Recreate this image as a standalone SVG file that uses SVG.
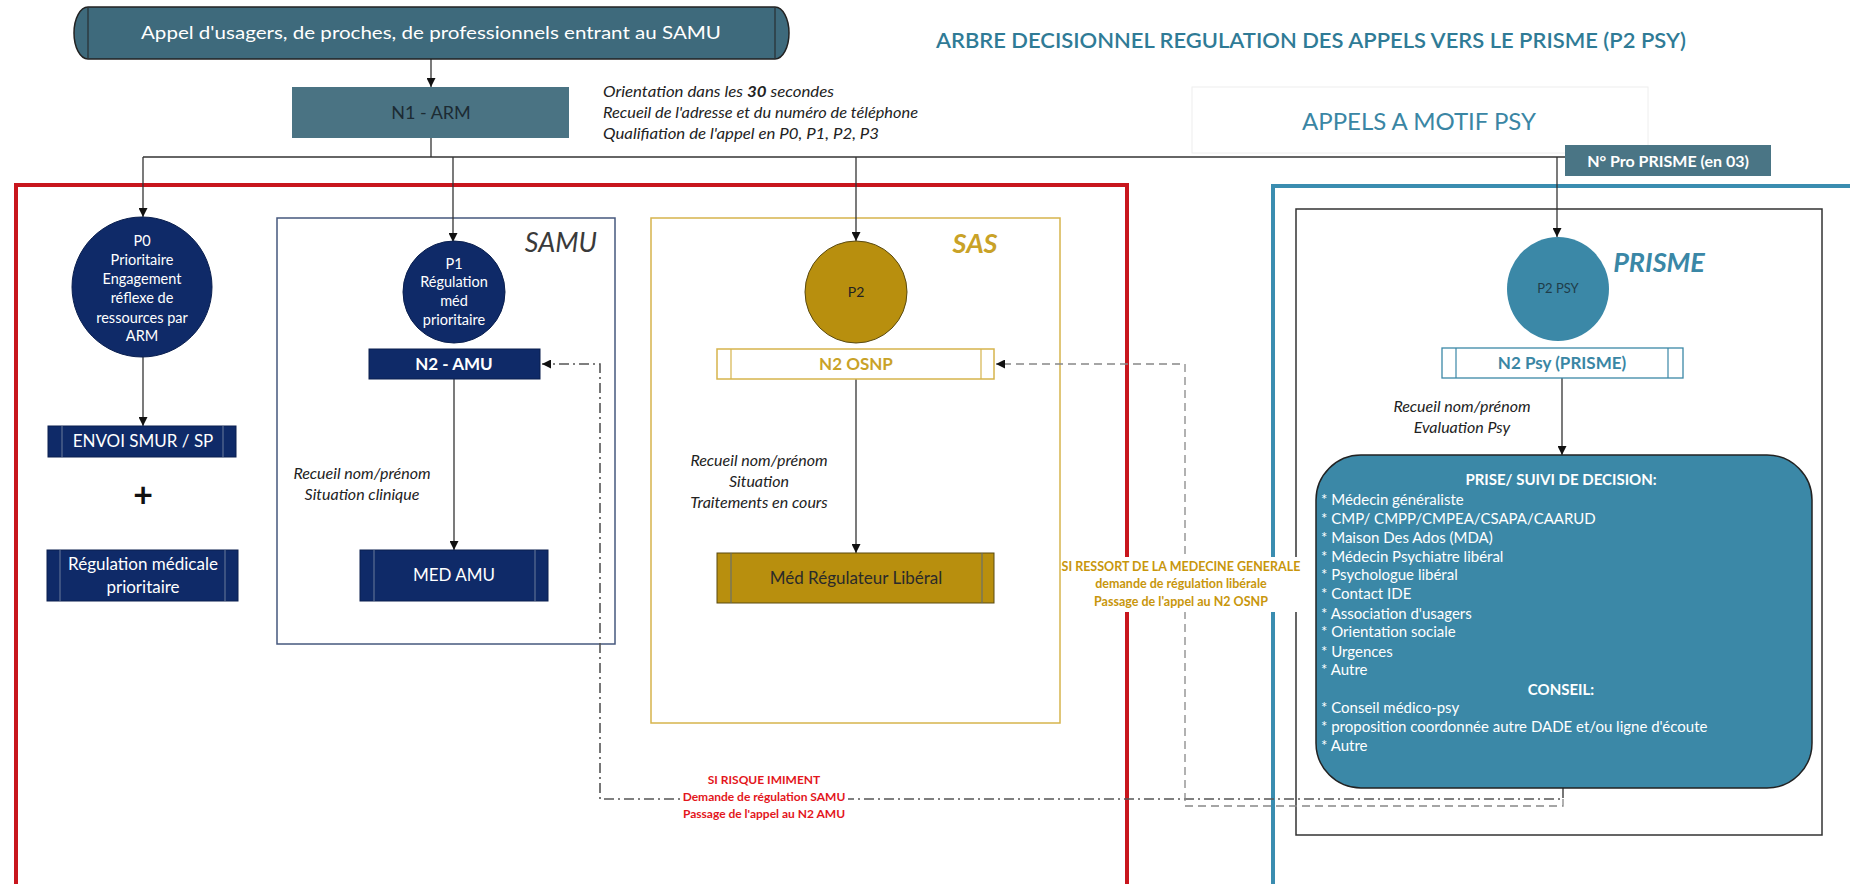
<svg xmlns="http://www.w3.org/2000/svg" width="1850" height="884" viewBox="0 0 1850 884">
<defs>
<style>
text{font-family:Lato,"Liberation Sans",sans-serif;fill:#222}
.c{text-anchor:middle}
.w{fill:#fff}
.it{font-style:italic}
.b{font-weight:bold}
.navy{fill:#0f2a68;stroke:#0a1f4f;stroke-width:1}
.gold{fill:#b88f0e;stroke:#5a4a10;stroke-width:1}
.inner{stroke:#6a7a9a;stroke-width:1;fill:none}
.conn{fill:none;stroke:#333;stroke-width:1.3}
.node-t{font-size:17px}
.note{font-size:16px;font-style:italic;fill:#222}
.lst{font-size:15px;fill:#fff}
</style>
<marker id="ah" markerWidth="9" markerHeight="9" refX="9" refY="4.5" orient="auto" markerUnits="userSpaceOnUse"><path d="M0,0 L9,4.5 L0,9 z" fill="#111"/></marker>
</defs>
<rect width="1850" height="884" fill="#fff"/>

<g id="title">
<text x="936" y="48" font-size="21" font-weight="600" style="fill:#2f7b96" textLength="750" lengthAdjust="spacingAndGlyphs">ARBRE DECISIONNEL REGULATION DES APPELS VERS LE PRISME (P2 PSY)</text>
</g>

<g id="containers">
<rect id="zone-red" x="16" y="185" width="1111" height="760" fill="none" stroke="#c8161d" stroke-width="4"/>
<rect id="zone-blue" x="1273" y="186" width="640" height="760" fill="none" stroke="#3a8db0" stroke-width="4"/>
<rect id="zone-prisme" x="1296" y="209" width="526" height="626" fill="none" stroke="#333" stroke-width="1.5"/>
<g id="zone-samu"><rect x="277" y="218" width="338" height="426" fill="none" stroke="#46587e" stroke-width="1.5"/>
<text x="561" y="252" font-size="27" class="it c" style="fill:#3a3a3a">SAMU</text></g>
<g id="zone-sas"><rect x="651" y="218" width="409" height="505" fill="none" stroke="#d6b44c" stroke-width="1.5"/>
<text x="975" y="253" font-size="27" class="it b c" style="fill:#c9a227">SAS</text></g>
<text x="1659" y="272" font-size="27" class="it b c" style="fill:#3a87a6">PRISME</text>
<g id="appels-psy"><rect x="1192" y="87" width="456" height="66" fill="#fff" stroke="#eeeeee" stroke-width="1"/>
<text x="1419" y="130" font-size="24" class="c" style="fill:#3a86a4">APPELS A MOTIF PSY</text></g>
</g>

<g id="connectors">
<path class="conn" d="M431 59 V87" marker-end="url(#ah)"/>
<path class="conn" d="M431 138 V157"/>
<path class="conn" d="M143 157 H1565"/>
<path class="conn" d="M143 157 V217" marker-end="url(#ah)"/>
<path class="conn" d="M453 157 V242" marker-end="url(#ah)"/>
<path class="conn" d="M856 157 V241" marker-end="url(#ah)"/>
<path class="conn" d="M1557 157 V237" marker-end="url(#ah)"/>
<path class="conn" d="M143 357 V426" marker-end="url(#ah)"/>
<path class="conn" d="M454 379 V550" marker-end="url(#ah)"/>
<path class="conn" d="M856 379 V553" marker-end="url(#ah)"/>
<path class="conn" d="M1562 378 V455" marker-end="url(#ah)"/>
<path d="M1563 788 V799 H600 V364 H542" fill="none" stroke="#555" stroke-width="1.6" stroke-dasharray="10 4 2 4" marker-end="url(#ah)"/>
<path d="M1563 799 V806 H1185 V364 H996" fill="none" stroke="#888" stroke-width="1.3" stroke-dasharray="8 5" marker-end="url(#ah)"/>
</g>

<g id="banner">
<rect x="74" y="7" width="715" height="52" rx="14" ry="26" fill="#3e6a7c" stroke="#222" stroke-width="1.5"/>
<path d="M88 8 V58 M775 8 V58" stroke="#222" stroke-width="1"/>
<text x="431" y="39" font-size="18" class="c w" textLength="580" lengthAdjust="spacingAndGlyphs">Appel d'usagers, de proches, de professionnels entrant au SAMU</text>
</g>

<g id="n1-arm">
<rect x="292" y="87" width="277" height="51" fill="#4a7383"/>
<text x="431" y="119" font-size="18" class="c" style="fill:#1c2b33">N1 - ARM</text>
</g>
<g id="n1-notes">
<text x="603" y="97" class="note" textLength="231" lengthAdjust="spacingAndGlyphs">Orientation dans les <tspan font-weight="bold">30</tspan> secondes</text>
<text x="603" y="118" class="note" textLength="315" lengthAdjust="spacingAndGlyphs">Recueil de l'adresse  et du numéro de téléphone</text>
<text x="603" y="139" class="note" textLength="276" lengthAdjust="spacingAndGlyphs">Qualifiation de l'appel en P0, P1, P2, P3</text>
</g>

<g id="npro">
<rect x="1565" y="145" width="206" height="31" fill="#4a7585"/>
<text x="1668" y="167" font-size="16" class="c b w">N° Pro PRISME (en 03)</text>
</g>

<g id="p0">
<ellipse cx="142" cy="287" rx="70" ry="70" class="navy"/>
<text class="c w" font-size="14.5"><tspan x="142" y="246">P0</tspan><tspan x="142" y="265">Prioritaire</tspan><tspan x="142" y="284">Engagement</tspan><tspan x="142" y="303">réflexe de</tspan><tspan x="142" y="323">ressources par</tspan><tspan x="142" y="341">ARM</tspan></text>
</g>
<g id="envoi">
<rect x="48" y="426" width="188" height="31" class="navy"/>
<path d="M62 426 V457 M223 426 V457" class="inner"/>
<text x="143" y="447" class="c w node-t">ENVOI SMUR / SP</text>
</g>
<text id="plus" x="143" y="507" font-size="34" class="c b" style="fill:#111">+</text>
<g id="regulation">
<rect x="47" y="550" width="191" height="51" class="navy"/>
<path d="M60 550 V601 M225 550 V601" class="inner"/>
<text class="c w node-t"><tspan x="143" y="570">Régulation médicale</tspan><tspan x="143" y="593">prioritaire</tspan></text>
</g>

<g id="p1">
<circle cx="454" cy="292" r="51" class="navy"/>
<text class="c w" font-size="14.5"><tspan x="454" y="269">P1</tspan><tspan x="454" y="287">Régulation</tspan><tspan x="454" y="306">méd</tspan><tspan x="454" y="325">prioritaire</tspan></text>
</g>
<g id="n2-amu">
<rect x="369" y="349" width="171" height="30" class="navy"/>
<text x="454" y="370" class="c b w node-t">N2 - AMU</text>
</g>
<g id="samu-notes">
<text class="c note"><tspan x="362" y="479">Recueil nom/prénom</tspan><tspan x="362" y="500">Situation clinique</tspan></text>
</g>
<g id="med-amu">
<rect x="360" y="550" width="188" height="51" class="navy"/>
<path d="M374 550 V601 M535 550 V601" class="inner"/>
<text x="454" y="581" class="c w node-t">MED AMU</text>
</g>

<g id="p2">
<circle cx="856" cy="292" r="51" class="gold" stroke="#222"/>
<text x="856" y="297" font-size="14" class="c">P2</text>
</g>
<g id="n2-osnp">
<rect x="717" y="349" width="277" height="30" fill="#fff" stroke="#d6b44c" stroke-width="1.5"/>
<path d="M731 349 V379 M981 349 V379" stroke="#d6b44c" stroke-width="1.2"/>
<text x="856" y="370" class="c b node-t" style="fill:#c9a227">N2 OSNP</text>
</g>
<g id="sas-notes">
<text class="c note"><tspan x="759" y="466">Recueil nom/prénom</tspan><tspan x="759" y="487">Situation</tspan><tspan x="759" y="508">Traitements en cours</tspan></text>
</g>
<g id="med-liberal">
<rect x="717" y="553" width="277" height="50" class="gold"/>
<path d="M731 553 V603 M982 553 V603" stroke="#5a6a7a" stroke-width="1"/>
<text x="856" y="584" class="c node-t" style="fill:#2a2a2a">Méd Régulateur Libéral</text>
</g>

<g id="p2-psy">
<ellipse cx="1558" cy="289" rx="51" ry="52" fill="#3b88a7"/>
<text x="1558" y="293" font-size="13" class="c" style="fill:#1f3d4a">P2 PSY</text>
</g>
<g id="n2-psy">
<rect x="1442" y="348" width="241" height="30" fill="#fff" stroke="#3b88a7" stroke-width="1.3"/>
<path d="M1456 348 V378 M1668 348 V378" stroke="#3b88a7" stroke-width="1.2"/>
<text x="1562" y="369" class="c b node-t" style="fill:#3a86a4">N2 Psy (PRISME)</text>
</g>
<g id="prisme-notes">
<text class="c note"><tspan x="1462" y="412">Recueil nom/prénom</tspan><tspan x="1462" y="433">Evaluation Psy</tspan></text>
</g>
<g id="decision">
<rect x="1316" y="455" width="496" height="333" rx="45" ry="45" fill="#3b88a7" stroke="#222" stroke-width="1.5"/>
<text x="1561" y="485" font-size="15" class="c b w">PRISE/ SUIVI DE DECISION:</text>
<text class="lst">
<tspan x="1321" y="505">* Médecin généraliste</tspan>
<tspan x="1321" y="524">* CMP/ CMPP/CMPEA/CSAPA/CAARUD</tspan>
<tspan x="1321" y="543">* Maison Des Ados (MDA)</tspan>
<tspan x="1321" y="562">* Médecin Psychiatre libéral</tspan>
<tspan x="1321" y="580">* Psychologue libéral</tspan>
<tspan x="1321" y="599">* Contact IDE</tspan>
<tspan x="1321" y="619">* Association d'usagers</tspan>
<tspan x="1321" y="637">* Orientation sociale</tspan>
<tspan x="1321" y="657">* Urgences</tspan>
<tspan x="1321" y="675">* Autre</tspan>
</text>
<text x="1561" y="695" font-size="15" class="c b w">CONSEIL:</text>
<text class="lst">
<tspan x="1321" y="713">* Conseil médico-psy</tspan>
<tspan x="1321" y="732">* proposition coordonnée autre DADE et/ou ligne d'écoute</tspan>
<tspan x="1321" y="751">* Autre</tspan>
</text>
</g>

<g id="label-risque">
<rect x="680" y="771" width="168" height="52" fill="#fff"/>
<text class="c b" font-size="12" style="fill:#e3161c"><tspan x="764" y="784">SI RISQUE IMIMENT</tspan><tspan x="764" y="801">Demande de régulation SAMU</tspan><tspan x="764" y="818">Passage de l'appel au N2 AMU</tspan></text>
</g>
<g id="label-ressort">
<rect x="1062" y="557" width="237" height="55" fill="#fff"/>
<text class="c b" font-size="12.5" style="fill:#c8960c"><tspan x="1181" y="571">SI RESSORT  DE LA MEDECINE GENERALE</tspan><tspan x="1181" y="588">demande de régulation libérale</tspan><tspan x="1181" y="606">Passage de l'appel au N2 OSNP</tspan></text>
</g>
</svg>
